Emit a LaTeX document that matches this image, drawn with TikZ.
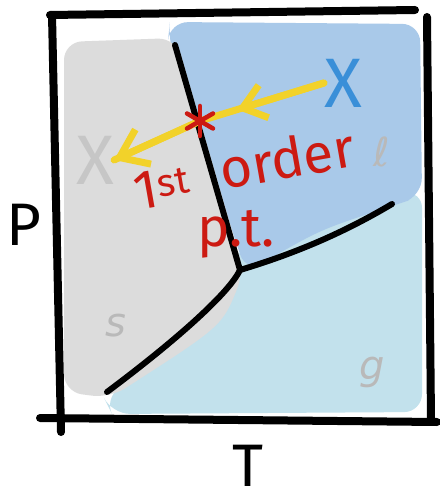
\documentclass[tikz,border=0pt]{standalone}
\usepackage{fontspec}
\setmainfont{Fira Sans}
\newfontfamily\tagfont{DejaVu Sans}
\usetikzlibrary{arrows.meta, positioning, calc}
\definecolor{solidgray}{HTML}{DCDCDC}
\definecolor{liquidblue}{HTML}{A9C9E9}
\definecolor{gasblue}{HTML}{C2E1EC}
\definecolor{pathyellow}{HTML}{F2D22A}
\definecolor{markblue}{HTML}{3A8FD8}
\definecolor{markred}{HTML}{CC1A12}

\begin{document}
\begin{tikzpicture}[
  x=1pt, y=-1pt,
  frame/.style={line width=8pt, black, line cap=round},
  phase/.style={line width=6pt, black, line cap=round},
  track/.style={line width=7pt, pathyellow, line cap=round},
  cross/.style={font=\fontsize{70}{70}\selectfont, inner sep=0pt},
  tag/.style={text=gray!55, font=\tagfont\fontsize{40}{40}\selectfont\itshape, inner sep=0pt},
  note/.style={text=markred, font=\fontsize{55}{55}\selectfont\mdseries, inner sep=0pt},
  axis/.style={font=\fontsize{60}{60}\selectfont, inner sep=0pt}
]
  \useasboundingbox (0,0) rectangle (439,502);
  \fill[white] (0,0) rectangle (439,502);

  % phase points
  \coordinate (triple) at (240,270);
  \coordinate (sltop)  at (175,45);
  \coordinate (lgend)  at (392,204);
  \coordinate (sgend)  at (107,392);

  % regions
  \fill[gasblue, rounded corners=18pt] (236,262) -- (392,196) -- (422,190) -- (422,412)
    -- (112,414) -- (104,398) .. controls (215,326) .. (236,262) -- cycle;
  \fill[liquidblue, rounded corners=18pt] (170,22) -- (420,24) -- (422,196)
    -- (392,206) .. controls (320,230) .. (246,272) -- (168,40) -- cycle;
  \fill[solidgray, rounded corners=18pt] (64,42) -- (176,38) -- (244,272)
    .. controls (222,326) .. (110,398) -- (64,392) -- cycle;

  % phase boundaries
  \draw[phase] (sltop) -- (triple);
  \draw[phase] (triple) .. controls (290,255) and (340,235) .. (lgend);
  \draw[phase] (triple) .. controls (228,295) and (170,345) .. (sgend);

  % frame
  \draw[frame] (50,15) -- (415,10);
  \draw[frame] (52,15) -- (61,432);
  \draw[frame] (427,17) -- (431,420);
  \draw[frame] (40,418) -- (437,422);

  % states and path
  \node[cross, text=markblue] (bluex) at (343,83) {X};
  \node[cross, text=gray!45] (grayx) at (95,160) {X};
  \coordinate (pt) at (200,121);
  \draw[track] (bluex.west) -- (pt) -- (grayx.east);
  \draw[track, -{Straight Barb[length=22pt, width=34pt]}]
    (bluex.west) -- ($(bluex.west)!0.7!(pt)$);
  \draw[track, -{Straight Barb[length=26pt, width=38pt]}]
    (pt) -- (grayx.east);
  \foreach \a in {90,30,-30}
    \draw[markred, line width=4.5pt, line cap=round]
      ($(pt)+(\a:15)$) -- ($(pt)+(\a+180:15)$);

  % labels
  \node[note, rotate=10] (first) at (162,188) {1\textsuperscript{st}};
  \node[note, rotate=10] (order) at (287,158) {order};
  \node[note] (pttxt) at (236,234) {p.t.};
  \node[tag] (liq) at (382,152) {ℓ};
  \node[tag] (sol) at (116,326) {s};
  \node[tag] (gas) at (372,372) {g};
  \node[axis] (plabel) at (24,225) {P};
  \node[axis] (tlabel) at (248,466) {T};
\end{tikzpicture}
\end{document}
